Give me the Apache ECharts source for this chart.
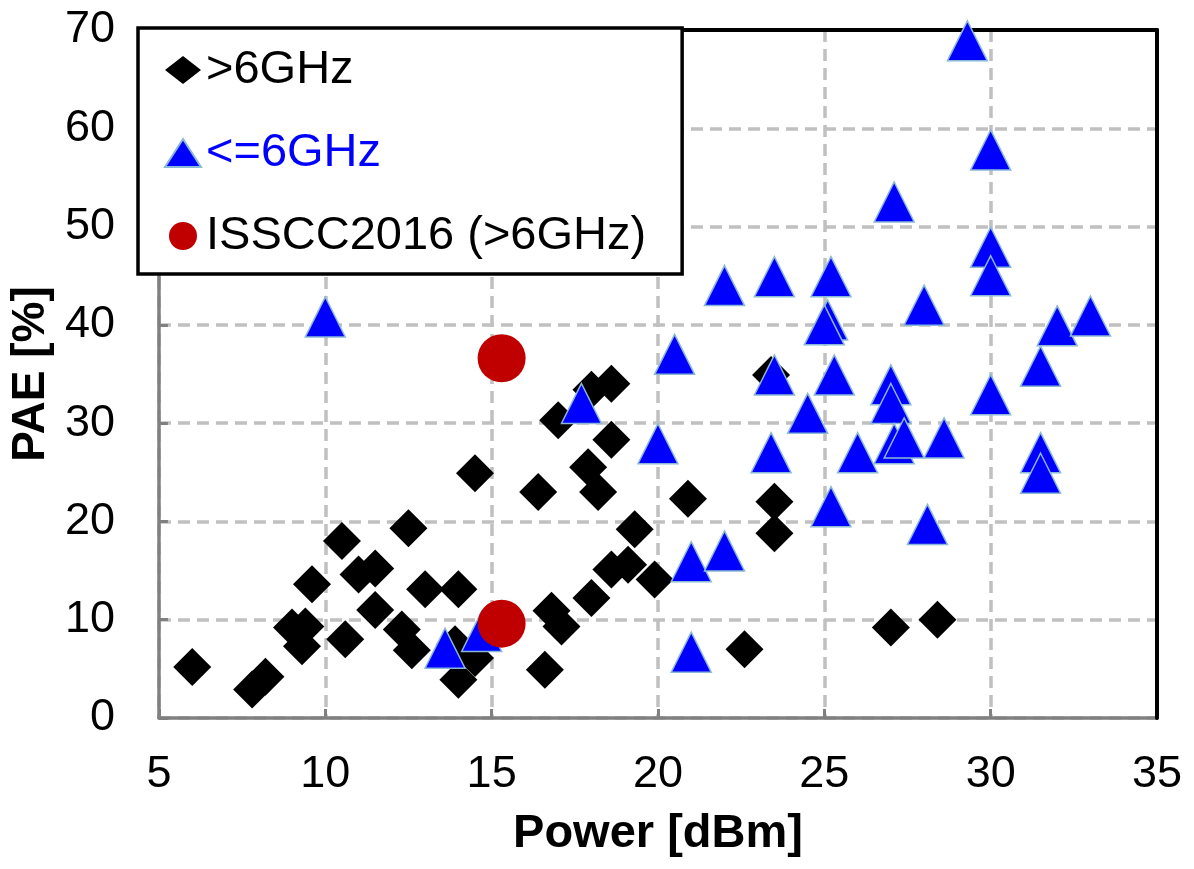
<!DOCTYPE html>
<html>
<head>
<meta charset="utf-8">
<script src="https://cdn.jsdelivr.net/npm/echarts@6/dist/echarts.min.js"></script>
<style>
html,body{margin:0;padding:0;background:#fff;}
#chart{width:1194px;height:869px;}
</style>
</head>
<body>
<div id="chart"></div>
<script>
// Series values [Power dBm, PAE %]
const above6GHz = [
  [6.0, 5.2], [7.8, 2.9], [8.2, 4.2], [9.0, 9.2], [9.4, 9.3], [9.3, 7.3],
  [9.6, 13.6], [10.5, 18.0], [10.6, 8.0], [11.0, 14.6], [11.5, 15.2], [11.5, 11.0],
  [12.5, 19.3], [12.3, 9.0], [12.6, 6.9], [13.0, 13.1], [14.0, 13.1], [14.5, 24.9],
  [14.0, 3.9], [14.5, 6.1], [13.9, 7.5], [16.4, 23.0], [17.0, 30.3], [18.0, 33.4],
  [18.6, 34.0], [18.6, 28.3], [17.9, 25.5], [18.2, 23.0], [19.3, 19.2], [18.6, 15.1],
  [19.1, 15.6], [19.9, 14.1], [18.0, 12.2], [16.8, 10.9], [17.1, 9.3], [16.6, 4.9],
  [20.9, 22.3], [23.5, 22.0], [23.5, 18.8], [22.6, 7.0], [23.4, 34.9], [27.0, 9.2],
  [28.4, 10.0]
];
const below6GHz = [
  [10.0, 40.8], [13.6, 7.1], [14.7, 8.8], [17.7, 32.0], [20.0, 27.9], [20.5, 37.0],
  [21.0, 15.9], [21.0, 6.7], [22.0, 44.0], [22.0, 17.0], [23.5, 44.9], [23.5, 34.9],
  [23.4, 27.0], [24.5, 31.0], [25.2, 44.9], [25.1, 40.5], [25.0, 40.0], [25.3, 34.9],
  [25.2, 21.5], [26.0, 27.0], [27.1, 52.5], [27.0, 33.9], [27.0, 32.0], [27.1, 27.9],
  [27.4, 28.5], [28.6, 28.5], [28.0, 42.0], [28.1, 19.7], [29.3, 68.9], [30.0, 57.8],
  [30.0, 47.9], [30.0, 45.0], [30.0, 32.9], [31.5, 35.8], [31.5, 27.0], [31.5, 24.9],
  [32.0, 39.9], [33.0, 40.9]
];
const isscc2016 = [[15.3, 36.6], [15.3, 9.6]];
const seriesNames = ['>6GHz', '<=6GHz', 'ISSCC2016 (>6GHz)'];
const xTicks = {min: 5, max: 35, interval: 5};
const yTicks = {min: 0, max: 70, interval: 10};

const FONT = "'Liberation Sans', Arial, sans-serif";
const chart = echarts.init(document.getElementById('chart'));
const gridLine = {show: true, lineStyle: {color: '#c0c0c0', width: 3.5, type: [12, 7]}};
const frameAxis = {
  axisLine: {show: true, onZero: false, lineStyle: {color: '#000', width: 4}},
  axisTick: {show: false}, axisLabel: {show: false}, splitLine: {show: false}, z: 1
};
chart.setOption({
  backgroundColor: '#fff',
  animation: false,
  grid: {left: 157, top: 30, right: 37, bottom: 151},
  xAxis: [{
    type: 'value', min: xTicks.min, max: xTicks.max, interval: xTicks.interval,
    name: 'Power [dBm]', nameLocation: 'middle', nameGap: 93,
    nameTextStyle: {fontFamily: FONT, fontSize: 47, fontWeight: 'bold', color: '#000'},
    axisLine: {show: true, onZero: false, lineStyle: {color: '#808080', width: 3.5}},
    axisTick: {show: true, inside: true, length: 9, lineStyle: {color: '#808080', width: 3}},
    axisLabel: {fontFamily: FONT, fontSize: 45, color: '#000', margin: 34},
    splitLine: gridLine
  }, Object.assign({type: 'value', position: 'top', min: xTicks.min, max: xTicks.max, interval: xTicks.interval}, frameAxis)],
  yAxis: [{
    type: 'value', min: yTicks.min, max: yTicks.max, interval: yTicks.interval,
    name: 'PAE [%]', nameLocation: 'middle', nameGap: 104, nameRotate: 90,
    nameTextStyle: {fontFamily: FONT, fontSize: 46, fontWeight: 'bold', color: '#000'},
    axisLine: {show: true, onZero: false, lineStyle: {color: '#808080', width: 3.5}},
    axisTick: {show: true, inside: true, length: 9, lineStyle: {color: '#808080', width: 3}},
    axisLabel: {fontFamily: FONT, fontSize: 45, color: '#000', margin: 44},
    splitLine: gridLine
  }, Object.assign({type: 'value', position: 'right', min: yTicks.min, max: yTicks.max, interval: yTicks.interval}, frameAxis)],
  legend: {
    orient: 'vertical', left: 138, top: 28, z: 10,
    backgroundColor: '#fff', borderColor: '#000', borderWidth: 3.5,
    padding: [17, 36, 13, 26], itemGap: 33, itemWidth: 36, itemHeight: 28,
    textStyle: {fontFamily: FONT, fontSize: 47, color: '#000', lineHeight: 50},
    data: [
      {name: seriesNames[0]},
      {name: seriesNames[1], textStyle: {color: '#0000ff'}},
      {name: seriesNames[2]}
    ]
  },
  series: [
    {name: seriesNames[0], type: 'scatter', symbol: 'diamond', symbolSize: 38,
      itemStyle: {color: '#000', opacity: 1}, data: above6GHz},
    {name: seriesNames[1], type: 'scatter', symbol: 'triangle', symbolSize: 40,
      itemStyle: {color: '#0000ff', borderColor: '#8ab8d8', borderWidth: 1.5, opacity: 1}, data: below6GHz},
    {name: seriesNames[2], type: 'scatter', symbol: 'circle', symbolSize: 48,
      itemStyle: {color: '#c00000', opacity: 1}, data: isscc2016}
  ]
});
</script>
</body>
</html>
